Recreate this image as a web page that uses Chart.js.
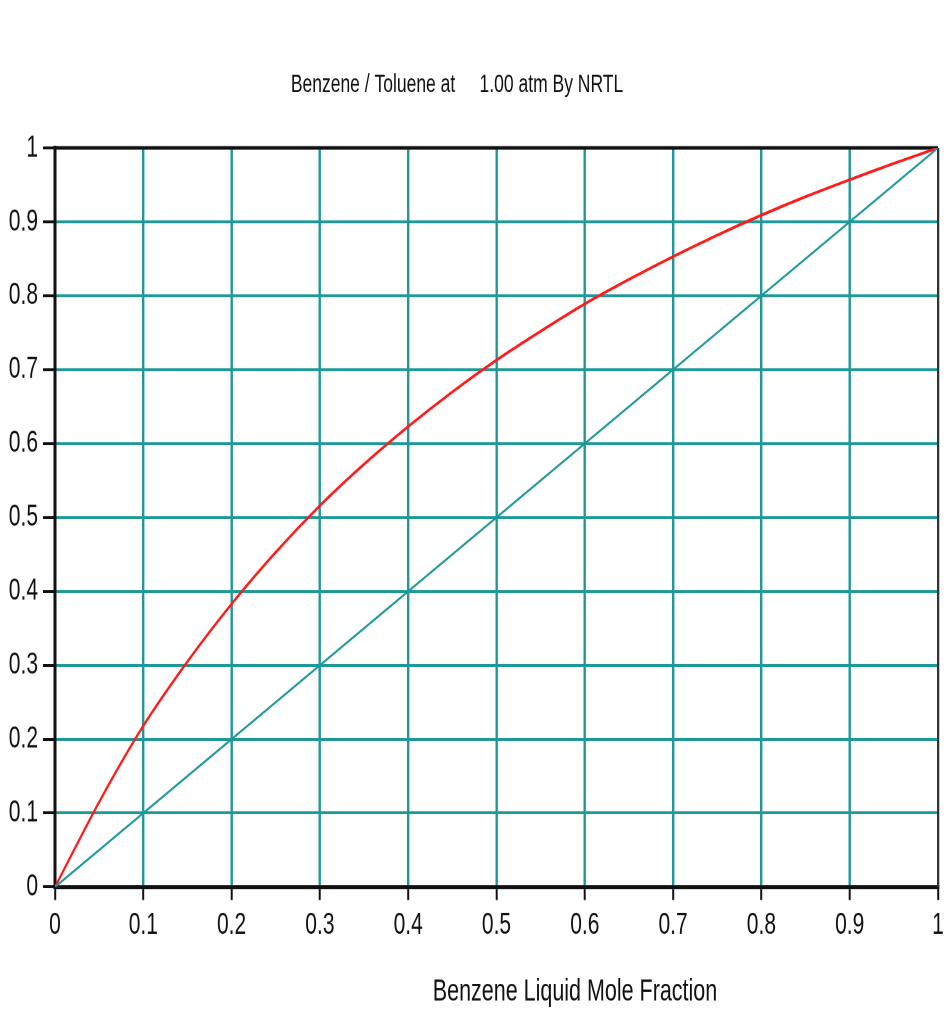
<!DOCTYPE html>
<html>
<head>
<meta charset="utf-8">
<script src="https://cdn.jsdelivr.net/npm/chart.js@4/dist/chart.umd.min.js"></script>
<style>
  html, body { margin: 0; padding: 0; background: #fff; }
  body { width: 951px; height: 1031px; }
  /* the reference is stretched vertically, so draw short and scale up */
  #wrap { width: 951px; height: 711px; transform: scaleY(1.45); transform-origin: 0 0; }
</style>
</head>
<body>
<div id="wrap"><canvas id="chart"></canvas></div>
<script>
  // liquid mole fraction of benzene
  const xLiquid = [0, 0.05, 0.1, 0.15, 0.2, 0.25, 0.3, 0.35, 0.4, 0.45, 0.5,
                   0.55, 0.6, 0.65, 0.7, 0.75, 0.8, 0.85, 0.9, 0.95, 1];
  // vapour mole fraction
  const yVapour = [0, 0.115, 0.218, 0.305, 0.383, 0.453, 0.516, 0.572, 0.623, 0.670, 0.713,
                   0.752, 0.789, 0.822, 0.853, 0.882, 0.909, 0.934, 0.957, 0.979, 1];
  // y = x reference line
  const diagonal = [[0, 0], [1, 1]];
  const tickValues = [0, 0.1, 0.2, 0.3, 0.4, 0.5, 0.6, 0.7, 0.8, 0.9, 1];

  const titleText = 'Benzene / Toluene at     1.00 atm By NRTL';
  const xTitleText = 'Benzene Liquid Mole Fraction';

  const TEAL = '#1f9898';
  const narrow = '"Liberation Sans Narrow", "Arial Narrow", "Liberation Sans", Arial, sans-serif';
  const regular = '"Liberation Sans", Arial, sans-serif';

  // frame on top/right plus the two free-standing texts
  const framePlugin = {
    id: 'frame',
    beforeDatasetsDraw(chart) {
      const { ctx, chartArea: a } = chart;
      ctx.save();
      ctx.strokeStyle = '#111';
      ctx.lineWidth = 2.4;
      ctx.beginPath();
      ctx.moveTo(a.left, a.top);
      ctx.lineTo(a.right, a.top);
      ctx.stroke();
      ctx.strokeStyle = '#333';
      ctx.lineWidth = 2;
      ctx.beginPath();
      ctx.moveTo(a.right, a.top);
      ctx.lineTo(a.right, a.bottom);
      ctx.stroke();
      ctx.restore();
    },
    afterDraw(chart) {
      const { ctx } = chart;
      ctx.save();
      ctx.fillStyle = '#111';
      ctx.textAlign = 'center';
      ctx.textBaseline = 'middle';
      ctx.font = '17.5px ' + regular;
      ctx.fillText(titleText, 457, 58.6);
      ctx.font = '21.5px ' + regular;
      ctx.fillText(xTitleText, 575, 684);
      ctx.restore();
    }
  };

  const ctx = document.getElementById('chart').getContext('2d');
  new Chart(ctx, {
    type: 'scatter',
    data: {
      datasets: [
        {
          label: 'y = x',
          data: diagonal.map(p => ({ x: p[0], y: p[1] })),
          showLine: true,
          borderColor: TEAL,
          borderWidth: 1.6,
          pointRadius: 0,
          tension: 0
        },
        {
          label: 'NRTL',
          data: xLiquid.map((x, i) => ({ x, y: yVapour[i] })),
          showLine: true,
          borderColor: '#ff1a1a',
          borderWidth: 2,
          pointRadius: 0,
          tension: 0.3
        }
      ]
    },
    options: {
      responsive: true,
      maintainAspectRatio: false,
      animation: false,
      devicePixelRatio: 2,
      layout: { padding: { top: 102, right: 13, left: 0, bottom: 0 } },
      plugins: {
        legend: { display: false },
        tooltip: { enabled: false },
        title: { display: false }
      },
      scales: {
        x: {
          type: 'linear',
          min: 0,
          max: 1,
          afterFit(scale) { scale.height = 99.3; },
          afterBuildTicks(scale) { scale.ticks = tickValues.map(v => ({ value: v })); },
          grid: { color: TEAL, lineWidth: 2.4, tickColor: '#111', tickLength: 9, tickWidth: 2 },
          border: { color: '#111', width: 2.6 },
          ticks: {
            color: '#111',
            padding: 5,
            maxRotation: 0,
            font: { family: narrow, size: 21 },
            callback: v => String(v)
          }
        },
        y: {
          type: 'linear',
          min: 0,
          max: 1,
          afterFit(scale) { scale.width = 55; },
          afterBuildTicks(scale) { scale.ticks = tickValues.map(v => ({ value: v })); },
          grid: { color: TEAL, lineWidth: 2, tickColor: '#111', tickLength: 12, tickWidth: 2 },
          border: { color: '#111', width: 3 },
          ticks: {
            color: '#111',
            padding: 5,
            font: { family: narrow, size: 21 },
            callback: v => String(v)
          }
        }
      }
    },
    plugins: [framePlugin]
  });
</script>
</body>
</html>
